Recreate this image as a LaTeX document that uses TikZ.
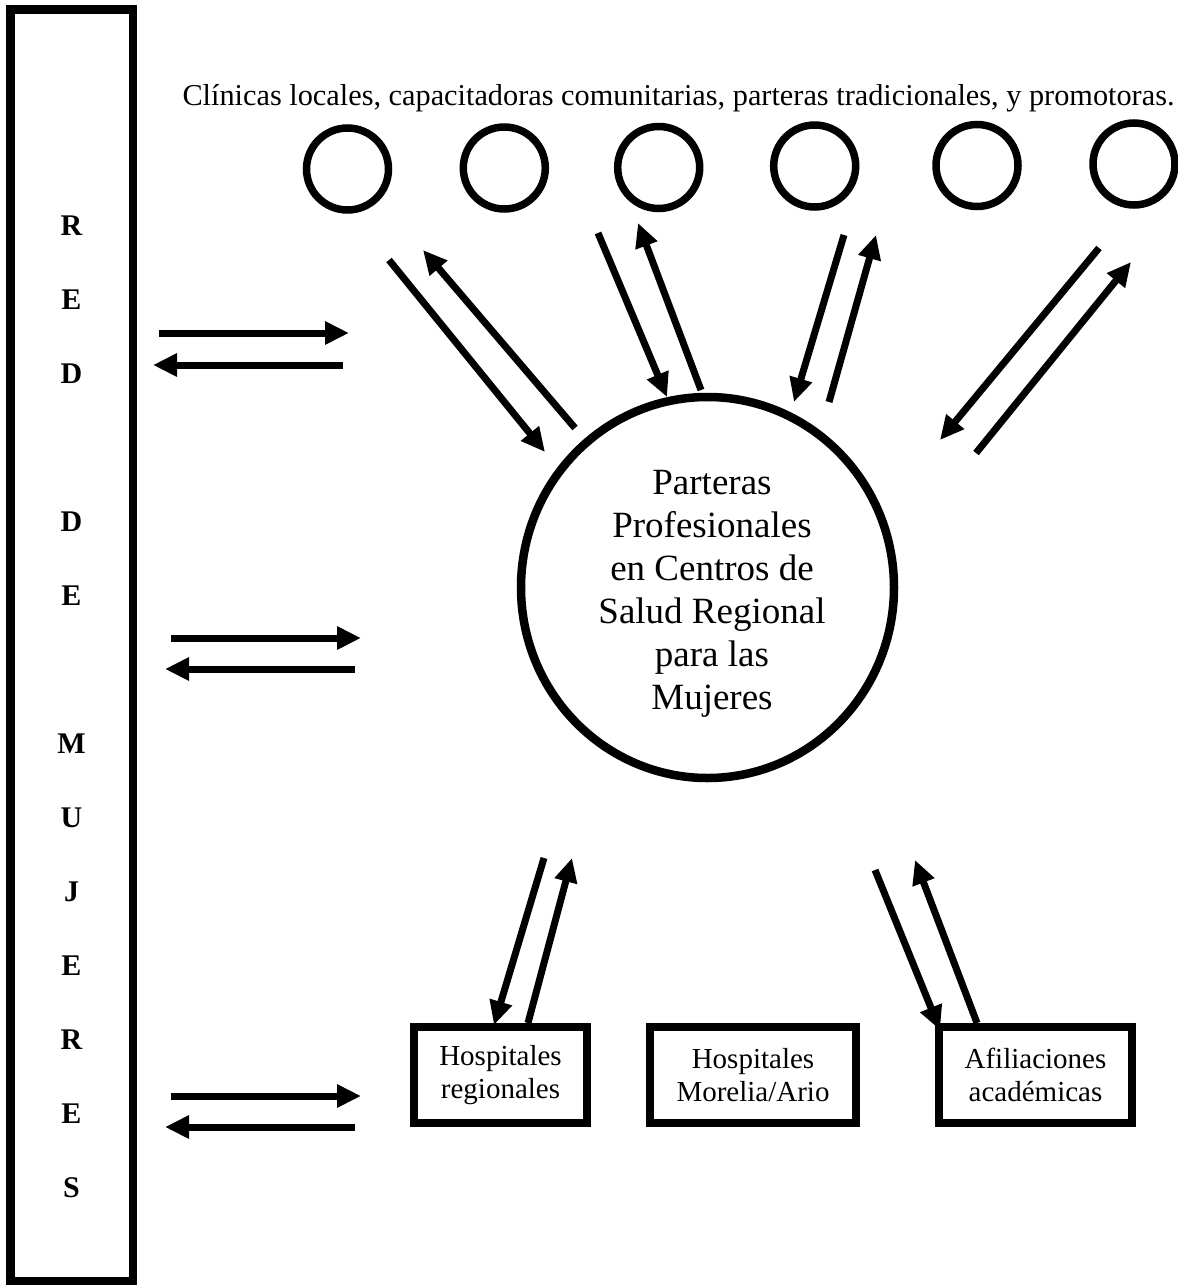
\documentclass[tikz,border=0pt]{standalone}
\usepackage{fontspec}
\setmainfont{Liberation Serif}
\usetikzlibrary{arrows.meta,shapes.geometric}
\begin{document}
\begin{tikzpicture}[x=1pt,y=-1pt,
  arr/.style={line width=7pt,-{Triangle[length=24pt,width=22pt]}},
  letter/.style={font=\fontsize{30}{36}\selectfont\bfseries,inner sep=0pt,anchor=base},
  smallcirc/.style={draw,circle,line width=7.5pt,minimum size=82pt,inner sep=0pt},
  box/.style={draw,rectangle,line width=8pt,inner sep=0pt,minimum height=96pt,align=center,font=\fontsize{29}{33}\selectfont},
]
\useasboundingbox (0,0) rectangle (1178,1288);

% left bar
\node[draw,line width=8.5pt,minimum width=122.5pt,minimum height=1271.5pt,inner sep=0pt] (bar) at (71.5,645) {};
\foreach \l/\yy [count=\i] in {R/225,E/299,D/373,D/521,E/595,M/743,U/817,J/891,E/965,R/1039,E/1113,S/1187}
  \node[letter] (L\i) at (71.5,\yy+10) {\l};

% top label
\node[anchor=base,inner sep=0pt,font=\fontsize{30.3}{36}\selectfont] (toplabel) at (678.5,105)
  {Clínicas locales, capacitadoras comunitarias, parteras tradicionales, y promotoras.};

% small circles
\foreach \xx/\yy [count=\i] in {347.5/169,504.3/168,658.7/167.5,814.7/166,977/165.5,1134/164}
  \node[smallcirc] (s\i) at (\xx,\yy) {};

% central circle
\node[draw,ellipse,line width=8.5pt,minimum width=373pt,minimum height=381pt,inner sep=0pt] (center) at (707.5,587.5) {};
\node[align=center,inner sep=0pt,font=\fontsize{37}{43}\selectfont] (centertext) at (712,594)
  {Parteras\\Profesionales\\en Centros de\\Salud Regional\\para las\\Mujeres};

% boxes
\node[box,minimum width=173pt] (b1) at (500.5,1075) {Hospitales\\regionales};
\node[box,minimum width=206pt] (b2) at (753,1075) {Hospitales\\Morelia/Ario};
\node[box,minimum width=193pt] (b3) at (1035.5,1075) {Afiliaciones\\académicas};

% arrows
\foreach \n/\ax/\ay/\bx/\by in {
  h1a/159/333/349/333, h1b/343/365/153/365,
  h2a/171/638/361/638, h2b/355/669/165/669,
  h3a/171/1096/361/1096, h3b/355/1127/165/1127,
  d1a/389/260/545/452, d1b/575/428/423/250,
  d2a/598/233/667/397, d2b/701/390/638/223,
  d3a/844/235/794/402, d3b/829/402/876/235,
  d4a/1099/248/940/440, d4b/976/453/1131/262,
  d5a/544/858/494/1025, d5b/528/1023/572/858,
  d6a/875/870/940/1030, d6b/977/1023/915/860}
{
  \coordinate (\n s) at (\ax,\ay);
  \coordinate (\n e) at (\bx,\by);
  \draw[arr] (\n s) -- (\n e);
}
\end{tikzpicture}
\end{document}
